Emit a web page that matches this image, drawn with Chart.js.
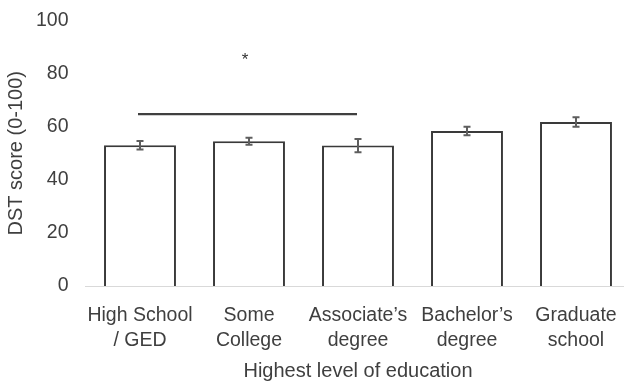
<!DOCTYPE html>
<html>
<head>
<meta charset="utf-8">
<script src="https://cdn.jsdelivr.net/npm/chart.js@4/dist/chart.umd.min.js"></script>
<style>
  html, body { margin: 0; padding: 0; background: #ffffff; overflow: hidden; }
  #wrap { width: 632px; height: 387px; }
</style>
</head>
<body>
<div id="wrap"><canvas id="c" width="632" height="387"></canvas></div>
<script>
// Mean DST score by highest level of education, with standard error bars
const categories = [
  ['High School', '/ GED'],
  ['Some', 'College'],
  ['Associate\u2019s', 'degree'],
  ['Bachelor\u2019s', 'degree'],
  ['Graduate', 'school']
];
const meanScores = [53.0, 54.5, 52.9, 58.4, 61.8];
const stdErrors = [1.6, 1.3, 2.5, 1.6, 1.8];
const yTicks = [0, 20, 40, 60, 80, 100];

// Significance bracket between two groups, and its marker
const sigGroups = [0, 2];
const sigLevel = 64.7;
const sigMarkLevel = 86.3;
const sigMark = '*';

const FONT = "'Liberation Sans', Arial, sans-serif";
const TEXT = '#3f3f3f';

const errorBars = {
  id: 'errorBars',
  afterDatasetsDraw(chart) {
    const { ctx, scales: { x, y } } = chart;
    ctx.save();
    ctx.strokeStyle = '#5e5e5e';
    ctx.lineWidth = 2;
    meanScores.forEach((v, i) => {
      const cx = x.getPixelForValue(i);
      const top = y.getPixelForValue(v + stdErrors[i]);
      const bot = y.getPixelForValue(v - stdErrors[i]);
      ctx.beginPath();
      ctx.moveTo(cx, top); ctx.lineTo(cx, bot);
      ctx.moveTo(cx - 3.5, top); ctx.lineTo(cx + 3.5, top);
      ctx.moveTo(cx - 3.5, bot); ctx.lineTo(cx + 3.5, bot);
      ctx.stroke();
    });
    ctx.restore();
  }
};

const significance = {
  id: 'significance',
  afterDatasetsDraw(chart) {
    const { ctx, scales: { x, y } } = chart;
    const x0 = x.getPixelForValue(sigGroups[0]) - 2;
    const x1 = x.getPixelForValue(sigGroups[1]) - 1;
    const ly = y.getPixelForValue(sigLevel);
    ctx.save();
    ctx.strokeStyle = '#404040';
    ctx.lineWidth = 2.2;
    ctx.beginPath();
    ctx.moveTo(x0, ly); ctx.lineTo(x1, ly);
    ctx.stroke();
    ctx.fillStyle = '#333333';
    ctx.font = '17px ' + FONT;
    ctx.textAlign = 'center';
    ctx.textBaseline = 'middle';
    ctx.fillText(sigMark, x.getPixelForValue(1) - 4, y.getPixelForValue(sigMarkLevel) + 3);
    ctx.restore();
  }
};

new Chart(document.getElementById('c'), {
  type: 'bar',
  data: {
    labels: categories,
    datasets: [{
      data: meanScores,
      backgroundColor: '#ffffff',
      borderColor: '#3a3a3a',
      borderWidth: 2,
      barPercentage: 0.66,
      categoryPercentage: 1.0
    }]
  },
  options: {
    responsive: false,
    animation: false,
    devicePixelRatio: 1,
    layout: { padding: { top: 20.5, right: 1.5, left: 0, bottom: 0 } },
    plugins: { legend: { display: false }, tooltip: { enabled: false } },
    scales: {
      x: {
        grid: { display: false, drawTicks: false },
        border: { display: true, color: '#d9d9d9', width: 1 },
        ticks: {
          color: TEXT,
          padding: 17,
          maxRotation: 0,
          autoSkip: false,
          font: { family: FONT, size: 19.5, lineHeight: 1.3 }
        },
        title: {
          display: true,
          text: 'Highest level of education',
          color: TEXT,
          padding: { top: 4, bottom: 4 },
          font: { family: FONT, size: 20, lineHeight: 1.2 }
        },
        afterFit(scale) { scale.height = 101; scale.paddingLeft = 0; scale.paddingRight = 0; }
      },
      y: {
        min: 0,
        max: 100,
        afterBuildTicks(scale) { scale.ticks = yTicks.map(v => ({ value: v })); },
        grid: { display: false, drawTicks: false },
        border: { display: false },
        ticks: {
          color: TEXT,
          padding: 17,
          font: { family: FONT, size: 19.5 }
        },
        title: {
          display: true,
          text: 'DST score (0-100)',
          color: TEXT,
          padding: { top: 4, bottom: 4 },
          font: { family: FONT, size: 20, lineHeight: 1.2 }
        },
        afterFit(scale) { scale.width = 85.5; scale.paddingTop = 0; scale.paddingBottom = 0; }
      }
    }
  },
  plugins: [errorBars, significance]
});
</script>
</body>
</html>
